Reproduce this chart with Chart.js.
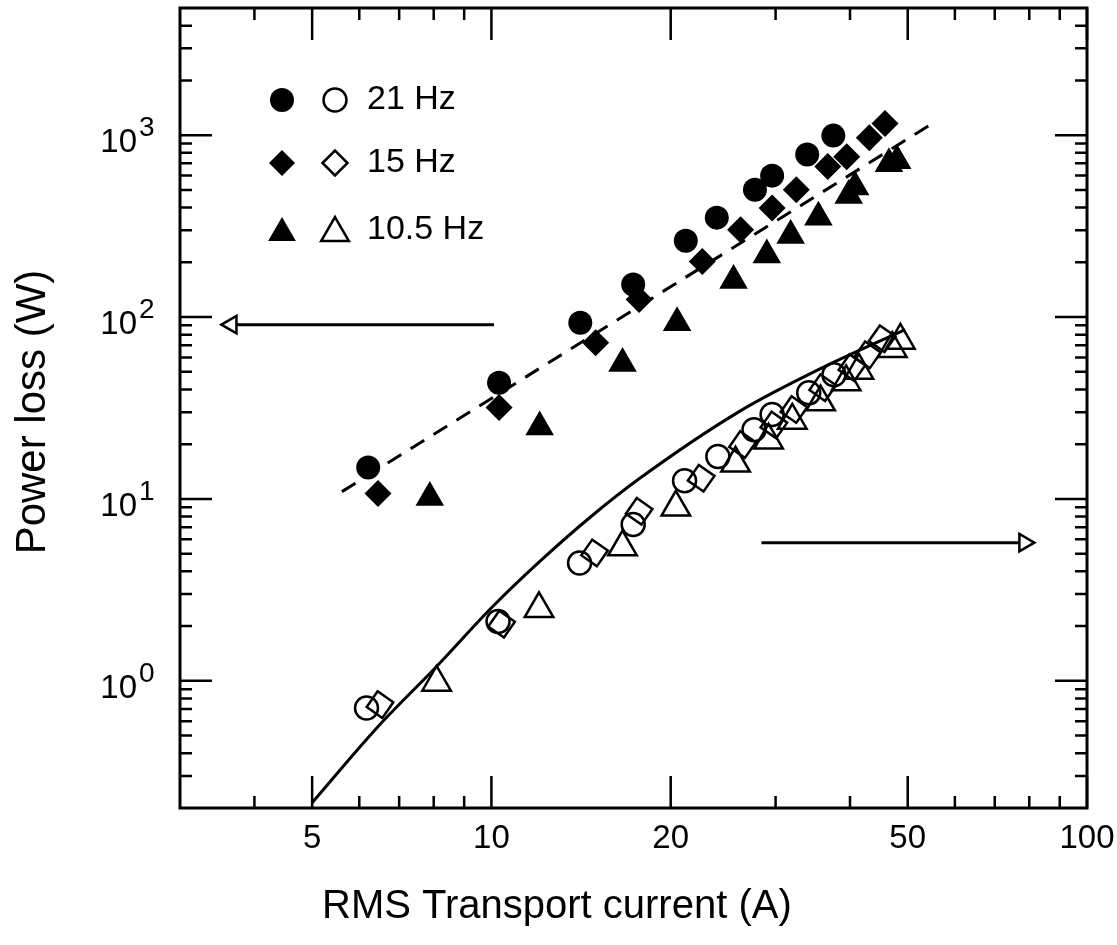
<!DOCTYPE html>
<html>
<head>
<meta charset="utf-8">
<script src="https://cdn.jsdelivr.net/npm/chart.js"></script>
<style>
  html, body { margin: 0; padding: 0; background: #fff; }
  #wrap { width: 1117px; height: 945px; }
</style>
</head>
<body>
<div id="wrap"><canvas id="loss-chart" width="1117" height="945"></canvas></div>
<script>
// axis ticks
const xMajorTicks = [5, 10, 20, 50, 100];
const xMinorTicks = [4, 6, 7, 8, 9, 30, 40, 60, 70, 80, 90];
const yMajorTicks = [1, 10, 100, 1000];
const yTickExponents = ['0', '1', '2', '3'];
const yMinorTicks = [0.3, 0.4, 0.5, 0.6, 0.7, 0.8, 0.9,
  2, 3, 4, 5, 6, 7, 8, 9,
  20, 30, 40, 50, 60, 70, 80, 90,
  200, 300, 400, 500, 600, 700, 800, 900,
  2000, 3000, 4000];

const xTitle = 'RMS Transport current (A)';
const yTitle = 'Power loss (W)';
const legendLabels = ['21 Hz', '15 Hz', '10.5 Hz'];

// 21 Hz
const circFilledX = [6.21, 10.3, 14.1, 17.3, 21.2, 23.9, 27.7, 29.6, 33.9, 37.5];
const circFilledY = [14.9, 43.5, 93, 151, 263, 352, 501, 599, 782, 994];
const circOpenX = [6.17, 10.26, 14.06, 17.3, 21.1, 24.0, 27.6, 29.6, 34.1, 37.6];
const circOpenY = [0.71, 2.12, 4.45, 7.23, 12.6, 17.1, 24.0, 29.1, 38.3, 48.2];

// 15 Hz
const diamFilledX = [6.45, 10.3, 14.96, 17.7, 22.6, 26.2, 29.6, 32.5, 36.7, 39.5, 43.1, 45.8];
const diamFilledY = [10.7, 31.8, 72.3, 125, 202, 302, 398, 501, 672, 761, 968, 1157];
const diamOpenX = [6.5, 10.4, 14.9, 17.7, 22.5, 26.4, 29.8, 32.2, 36.0, 40.3, 42.8, 45.3];
const diamOpenY = [0.74, 2.05, 5.05, 8.55, 13.0, 19.9, 25.5, 31.0, 40.9, 52.7, 62, 76];

// 10.5 Hz
const triFilledX = [7.88, 12.05, 16.6, 20.5, 25.5, 29.0, 31.8, 35.4, 39.8, 40.8, 46.5, 48.0];
const triFilledY = [10.2, 24.9, 55.5, 93, 159, 219, 281, 354, 466, 519, 696, 724];
const triOpenX = [8.09, 12.02, 16.6, 20.4, 25.7, 29.2, 32.0, 35.7, 39.4, 41.4, 47.1, 48.6];
const triOpenY = [0.98, 2.49, 5.44, 9.0, 15.7, 21.0, 27.0, 34.1, 44.0, 50.9, 67.0, 74.4];

// fits
const fitDashedX = [5.61, 54.6];
const fitDashedY = [10.97, 1142];
const fitSolidX = [5.0, 6.42, 8.09, 10.06, 12.07, 14.6, 17.7, 26.1, 35.9, 49.5];
const fitSolidY = [0.214, 0.551, 1.20, 2.57, 4.55, 7.86, 12.9, 30.3, 52.5, 85.3];

// axis arrows
const arrowLeftX = [10.1, 3.66];
const arrowLeftY = [90.8, 90.8];
const arrowRightX = [28.4, 78.5];
const arrowRightY = [5.75, 5.75];

const FONT = 'Liberation Sans';
const pts = (xs, ys) => xs.map((v, i) => ({x: v, y: ys[i]}));
const clear = 'rgba(0,0,0,0)';

function marker(style, filled, r, rot) {
  return {
    showLine: false,
    pointStyle: style,
    pointRadius: r,
    rotation: rot || 0,
    pointBackgroundColor: filled ? '#000' : clear,
    pointBorderColor: '#000',
    pointBorderWidth: filled ? 0 : 2.5
  };
}

function drawMarker(ctx, style, filled, r, x, y) {
  ctx.fillStyle = filled ? '#000' : clear;
  ctx.strokeStyle = '#000';
  ctx.lineWidth = filled ? 0 : 2.5;
  Chart.helpers.drawPoint(ctx, {pointStyle: style, radius: r, rotation: 0, borderWidth: filled ? 0 : 2.5}, x, y);
}

const frameAndTicks = {
  id: 'frameAndTicks',
  afterDraw(chart) {
    const {ctx, chartArea: a, scales: {x, y}} = chart;
    ctx.save();
    ctx.strokeStyle = '#000';
    ctx.lineWidth = 2.5;
    ctx.beginPath();
    const xt = (v, len) => {
      const px = x.getPixelForValue(v);
      ctx.moveTo(px, a.bottom); ctx.lineTo(px, a.bottom - len);
      ctx.moveTo(px, a.top); ctx.lineTo(px, a.top + len);
    };
    const yt = (v, len) => {
      const py = y.getPixelForValue(v);
      ctx.moveTo(a.left, py); ctx.lineTo(a.left + len, py);
      ctx.moveTo(a.right, py); ctx.lineTo(a.right - len, py);
    };
    xMajorTicks.forEach(v => xt(v, 32));
    xMinorTicks.forEach(v => xt(v, 12));
    yMajorTicks.forEach(v => yt(v, 32));
    yMinorTicks.forEach(v => yt(v, 12));
    ctx.stroke();
    ctx.lineWidth = 3;
    ctx.strokeRect(a.left, a.top, a.width, a.height);

    // y tick labels 10^n
    ctx.fillStyle = '#000';
    yMajorTicks.forEach((v, i) => {
      const py = y.getPixelForValue(v);
      ctx.font = '33px "' + FONT + '"';
      ctx.textAlign = 'right';
      ctx.textBaseline = 'alphabetic';
      ctx.fillText('10', 137, py + 17);
      ctx.font = '28px "' + FONT + '"';
      ctx.textAlign = 'left';
      ctx.fillText(yTickExponents[i], 139, py + 1);
    });

    // axis titles
    ctx.font = '40px "' + FONT + '"';
    ctx.textBaseline = 'middle';
    ctx.textAlign = 'left';
    ctx.fillText(xTitle, 322, 907);
    ctx.save();
    ctx.translate(33, 412);
    ctx.rotate(-Math.PI / 2);
    ctx.font = '42px "' + FONT + '"';
    ctx.textAlign = 'center';
    ctx.fillText(yTitle, 0, 0);
    ctx.restore();

    // legend
    const rows = [100, 163, 233];
    const styles = [['circle', 12, 11.5], ['rectRot', 13, 12.5], ['triangle', 16, 16]];
    rows.forEach((ry, i) => {
      const [st, rf, ro] = styles[i];
      drawMarker(ctx, st, true, rf, 282, ry);
      drawMarker(ctx, st, false, ro, 335, ry);
      ctx.fillStyle = '#000';
      ctx.font = '34px "' + FONT + '"';
      ctx.textAlign = 'left';
      ctx.textBaseline = 'middle';
      ctx.fillText(legendLabels[i], 367, i === 2 ? ry - 3 : ry);
    });
    ctx.restore();
  }
};

const ctx = document.getElementById('loss-chart');
const lossChart = new Chart(ctx, {
  type: 'scatter',
  data: {
    datasets: [
      {data: pts(circFilledX, circFilledY), ...marker('circle', true, 12)},
      {data: pts(diamFilledX, diamFilledY), ...marker('rectRot', true, 13.5)},
      {data: pts(triFilledX, triFilledY), ...marker('triangle', true, 16.5)},
      {data: pts(circOpenX, circOpenY), ...marker('circle', false, 11.5)},
      {data: pts(diamOpenX, diamOpenY), ...marker('rectRot', false, 13.5, -10)},
      {data: pts(triOpenX, triOpenY), ...marker('triangle', false, 16.5)},
      {
        data: pts(fitDashedX, fitDashedY), showLine: true, pointRadius: 0,
        borderColor: '#000', borderWidth: 3, borderDash: [16, 11]
      },
      {
        data: pts(fitSolidX, fitSolidY), showLine: true, pointRadius: 0,
        borderColor: '#000', borderWidth: 3, cubicInterpolationMode: 'monotone'
      },
      {
        data: pts(arrowLeftX, arrowLeftY), showLine: true, borderColor: '#000', borderWidth: 3,
        pointStyle: 'triangle', pointRadius: [0, 10], rotation: [0, -90],
        pointBackgroundColor: '#fff', pointBorderColor: '#000', pointBorderWidth: 2.5
      },
      {
        data: pts(arrowRightX, arrowRightY), showLine: true, borderColor: '#000', borderWidth: 3,
        pointStyle: 'triangle', pointRadius: [0, 10], rotation: [0, 90],
        pointBackgroundColor: '#fff', pointBorderColor: '#000', pointBorderWidth: 2.5
      }
    ]
  },
  options: {
    responsive: false,
    animation: false,
    events: [],
    layout: {autoPadding: false, padding: {top: 8, right: 30, left: 0, bottom: 0}},
    plugins: {legend: {display: false}, tooltip: {enabled: false}},
    scales: {
      x: {
        type: 'logarithmic', min: 3, max: 100,
        afterBuildTicks: s => { s.ticks = xMajorTicks.map(v => ({value: v})); },
        afterFit: s => { s.height = 137; s.paddingLeft = 0; s.paddingRight = 0; },
        grid: {display: false, drawTicks: false},
        border: {display: false},
        ticks: {
          autoSkip: false, maxRotation: 0, padding: 11, color: '#000',
          font: {family: FONT, size: 33},
          callback: v => String(v)
        }
      },
      y: {
        type: 'logarithmic', min: 0.2, max: 5000,
        afterFit: s => { s.width = 180; s.paddingTop = 0; s.paddingBottom = 0; },
        grid: {display: false, drawTicks: false},
        border: {display: false},
        ticks: {display: false}
      }
    }
  },
  plugins: [frameAndTicks]
});
</script>
</body>
</html>
